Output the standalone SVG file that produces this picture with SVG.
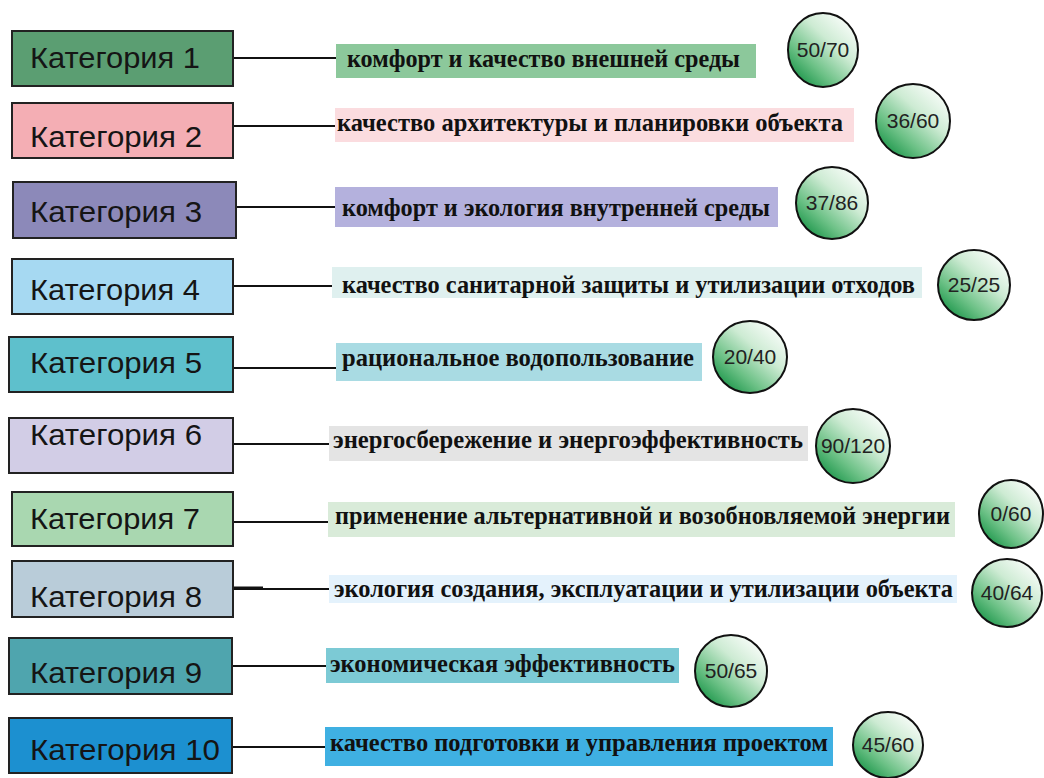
<svg xmlns="http://www.w3.org/2000/svg" width="1044" height="778" viewBox="0 0 1044 778">
<defs>
<linearGradient id="ball" x1="0.9" y1="0.05" x2="0.15" y2="0.9">
<stop offset="0" stop-color="#ffffff"/>
<stop offset="0.4" stop-color="#cdebd3"/>
<stop offset="0.75" stop-color="#6cc186"/>
<stop offset="1" stop-color="#22994f"/>
</linearGradient>
<style>
.cat{stroke:#222;stroke-width:2}
.ct{font-family:"Liberation Sans",Arial,sans-serif;font-size:30px;fill:#151515}
.lt{font-family:"Liberation Serif","Times New Roman",serif;font-weight:bold;font-size:25px;fill:#111}
.ball{fill:url(#ball);stroke:#111;stroke-width:2}
.bt{font-family:"Liberation Sans",Arial,sans-serif;font-size:21px;fill:#222;text-anchor:middle}
.con{stroke:#111;stroke-width:2.2;fill:none}
</style>
</defs>
<rect width="1044" height="778" fill="#ffffff"/>

<g id="connectors">
<line class="con" x1="233" y1="58" x2="336" y2="58"/>
<line class="con" x1="233" y1="126" x2="335" y2="126"/>
<line class="con" x1="236" y1="207" x2="335" y2="207"/>
<line class="con" x1="233" y1="286" x2="332" y2="286"/>
<line class="con" x1="233" y1="368" x2="336" y2="368"/>
<line class="con" x1="233" y1="444" x2="329" y2="444"/>
<line class="con" x1="233" y1="522" x2="329" y2="522"/>
<line class="con" x1="233" y1="589" x2="329" y2="589"/>
<line x1="233" y1="588" x2="263" y2="588" stroke="#111" stroke-width="3"/>
<line class="con" x1="232" y1="666" x2="326" y2="666"/>
<line class="con" x1="232" y1="747" x2="325" y2="747"/>
</g>

<g id="cat1"><rect class="cat" x="12" y="31" width="221" height="55" fill="#5b9e72"/><text class="ct" x="30" y="68" textLength="170" lengthAdjust="spacingAndGlyphs">Категория 1</text></g>
<g id="cat2"><rect class="cat" x="12" y="103" width="221" height="55" fill="#f4aeb4"/><text class="ct" x="30" y="147" textLength="172" lengthAdjust="spacingAndGlyphs">Категория 2</text></g>
<g id="cat3"><rect class="cat" x="13" y="182" width="223" height="56" fill="#8c89b9"/><text class="ct" x="30" y="222" textLength="172" lengthAdjust="spacingAndGlyphs">Категория 3</text></g>
<g id="cat4"><rect class="cat" x="12" y="259" width="221" height="55" fill="#a6d9f2"/><text class="ct" x="30" y="300" textLength="170" lengthAdjust="spacingAndGlyphs">Категория 4</text></g>
<g id="cat5"><rect class="cat" x="9" y="337" width="224" height="55" fill="#5ec0cc"/><text class="ct" x="30" y="373" textLength="172" lengthAdjust="spacingAndGlyphs">Категория 5</text></g>
<g id="cat6"><rect class="cat" x="9" y="418" width="224" height="55" fill="#d2cde6"/><text class="ct" x="30" y="445" textLength="172" lengthAdjust="spacingAndGlyphs">Категория 6</text></g>
<g id="cat7"><rect class="cat" x="12" y="492" width="221" height="54" fill="#a9d7b0"/><text class="ct" x="30" y="529" textLength="170" lengthAdjust="spacingAndGlyphs">Категория 7</text></g>
<g id="cat8"><rect class="cat" x="12" y="561" width="221" height="56" fill="#b9ccd9"/><text class="ct" x="30" y="607" textLength="172" lengthAdjust="spacingAndGlyphs">Категория 8</text></g>
<g id="cat9"><rect class="cat" x="9" y="638" width="223" height="56" fill="#4fa5ae"/><text class="ct" x="30" y="683" textLength="172" lengthAdjust="spacingAndGlyphs">Категория 9</text></g>
<g id="cat10"><rect class="cat" x="9" y="718" width="223" height="55" fill="#1c90d0"/><text class="ct" x="30" y="760" textLength="190" lengthAdjust="spacingAndGlyphs">Категория 10</text></g>

<g id="label1"><rect x="336" y="44" width="420" height="34" fill="#8cc89b"/><text class="lt" x="347" y="67" textLength="393" lengthAdjust="spacingAndGlyphs">комфорт и качество внешней среды</text></g>
<g id="label2"><rect x="335" y="108" width="519" height="34" fill="#fbdcdf"/><text class="lt" x="337" y="131" textLength="506" lengthAdjust="spacingAndGlyphs">качество архитектуры и планировки объекта</text></g>
<g id="label3"><rect x="335" y="187" width="443" height="40" fill="#b4b1dd"/><text class="lt" x="342" y="216" textLength="428" lengthAdjust="spacingAndGlyphs">комфорт и экология внутренней среды</text></g>
<g id="label4"><rect x="332" y="267" width="590" height="31" fill="#dff0ef"/><text class="lt" x="342" y="293" textLength="573" lengthAdjust="spacingAndGlyphs">качество санитарной защиты и утилизации отходов</text></g>
<g id="label5"><rect x="336" y="343" width="366" height="38" fill="#a9dbe3"/><text class="lt" x="342" y="366" textLength="352" lengthAdjust="spacingAndGlyphs">рациональное водопользование</text></g>
<g id="label6"><rect x="329" y="426" width="479" height="35" fill="#e4e4e4"/><text class="lt" x="333" y="448" textLength="470" lengthAdjust="spacingAndGlyphs">энергосбережение и энергоэффективность</text></g>
<g id="label7"><rect x="328" y="502" width="627" height="35" fill="#d9ebd9"/><text class="lt" x="335" y="524" textLength="615" lengthAdjust="spacingAndGlyphs">применение альтернативной и возобновляемой энергии</text></g>
<g id="label8"><rect x="329" y="575" width="628" height="28" fill="#e4f2fc"/><text class="lt" x="334" y="597" textLength="619" lengthAdjust="spacingAndGlyphs">экология создания, эксплуатации и утилизации объекта</text></g>
<g id="label9"><rect x="326" y="648" width="353" height="35" fill="#7ccad5"/><text class="lt" x="330" y="672" textLength="345" lengthAdjust="spacingAndGlyphs">экономическая эффективность</text></g>
<g id="label10"><rect x="325" y="727" width="508" height="39" fill="#3fb0e2"/><text class="lt" x="330" y="751" textLength="498" lengthAdjust="spacingAndGlyphs">качество подготовки и управления проектом</text></g>

<g id="score1"><ellipse class="ball" cx="823" cy="50" rx="35" ry="37"/><text class="bt" x="823" y="57">50/70</text></g>
<g id="score2"><ellipse class="ball" cx="913" cy="121" rx="37" ry="37"/><text class="bt" x="913" y="128">36/60</text></g>
<g id="score3"><ellipse class="ball" cx="832" cy="203" rx="36" ry="36"/><text class="bt" x="832" y="210">37/86</text></g>
<g id="score4"><ellipse class="ball" cx="974" cy="285" rx="36" ry="35"/><text class="bt" x="974" y="292">25/25</text></g>
<g id="score5"><ellipse class="ball" cx="750" cy="357" rx="37" ry="36"/><text class="bt" x="750" y="364">20/40</text></g>
<g id="score6"><ellipse class="ball" cx="853" cy="446" rx="37" ry="37"/><text class="bt" x="853" y="453">90/120</text></g>
<g id="score7"><ellipse class="ball" cx="1011" cy="514" rx="32" ry="34"/><text class="bt" x="1011" y="521">0/60</text></g>
<g id="score8"><ellipse class="ball" cx="1007" cy="593" rx="35" ry="34"/><text class="bt" x="1007" y="600">40/64</text></g>
<g id="score9"><ellipse class="ball" cx="731" cy="671" rx="36" ry="36"/><text class="bt" x="731" y="678">50/65</text></g>
<g id="score10"><ellipse class="ball" cx="888" cy="745" rx="35" ry="33"/><text class="bt" x="888" y="752">45/60</text></g>
</svg>
